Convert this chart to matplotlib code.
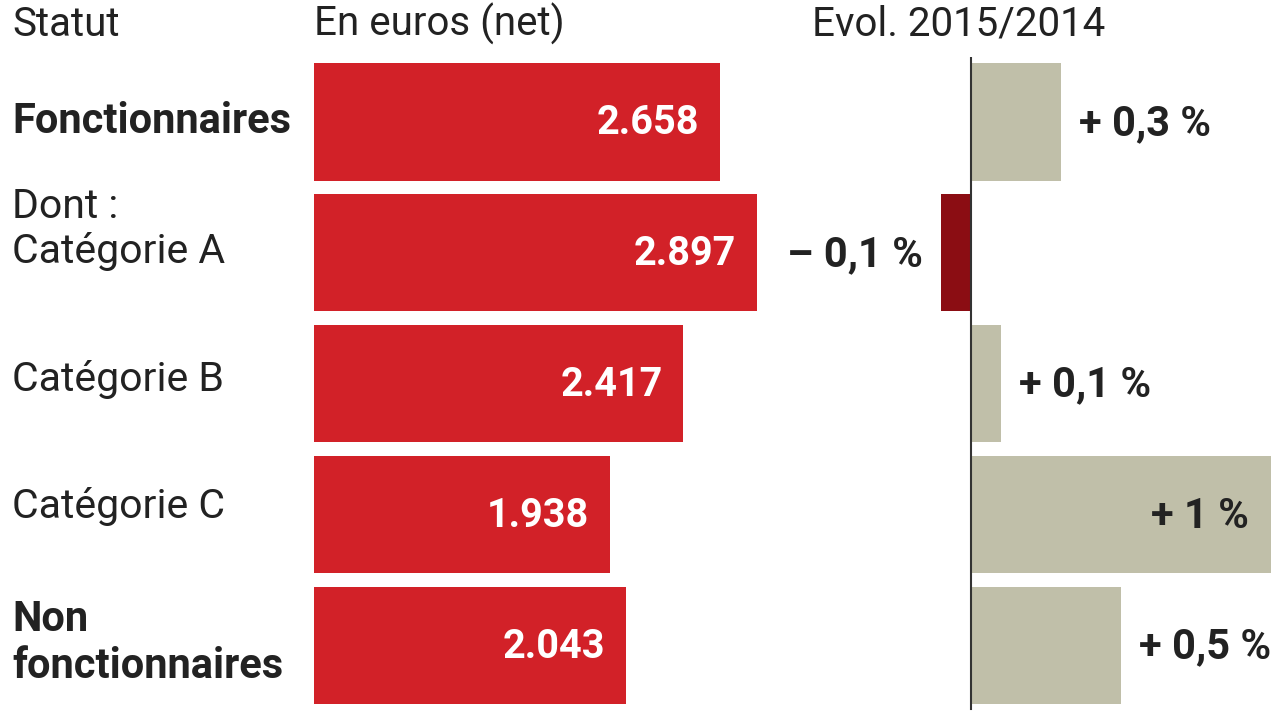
import numpy as np
import matplotlib.pyplot as plt

plt.rcParams['font.family'] = ['Roboto', 'DejaVu Sans']

categories = ["Fonctionnaires", "Dont :\nCatégorie A", "Catégorie B", "Catégorie C", "Non\nfonctionnaires"]
bold_rows = [True, False, False, False, True]
salaire = [2658, 2897, 2417, 1938, 2043]
salaire_labels = ["2.658", "2.897", "2.417", "1.938", "2.043"]
evol = [0.3, -0.1, 0.1, 1.0, 0.5]
evol_labels = ["+ 0,3 %", "– 0,1 %", "+ 0,1 %", "+ 1 %", "+ 0,5 %"]

RED = "#d22128"
DARKRED = "#8b0d13"
BEIGE = "#c0bfa9"
TXT = "#222222"

W, H = 1280, 720
fig = plt.figure(figsize=(W / 100, H / 100), dpi=100)

def px_axes(x0, x1, y0, y1):
    return fig.add_axes([x0 / W, 1 - y1 / H, (x1 - x0) / W, (y1 - y0) / H])

y = np.arange(len(categories))

# left: salaries
ax1 = px_axes(314, 314 + 3000 * 0.1528, 56.5, 711)
ax1.barh(y, salaire, height=0.895, color=RED)
ax1.set_xlim(0, 3000)
ax1.set_ylim(len(categories) - 0.5, -0.5)
ax1.axis('off')
for i, (v, lab) in enumerate(zip(salaire, salaire_labels)):
    ax1.annotate(lab, (v, i), xytext=(-15, -1), textcoords='offset points',
                 ha='right', va='center', color='white', fontsize=28.5, fontweight='bold')

# right: evolution
ax2 = px_axes(971 - 0.6 * 300, 971 + 1.03 * 300, 56.5, 711)
colors = [DARKRED if v < 0 else BEIGE for v in evol]
ax2.barh(y, evol, height=0.895, color=colors)
ax2.set_xlim(-0.6, 1.03)
ax2.set_ylim(len(categories) - 0.5, -0.5)
ax2.axis('off')
ax2.axvline(0, ymin=0.003, ymax=0.997, color="#333333", lw=1.5)
for i, (v, lab) in enumerate(zip(evol, evol_labels)):
    if v >= 0.9:
        off, ha = (-16, -1), 'right'
    elif v < 0:
        off, ha = (-13, -1), 'right'
    else:
        off, ha = (13, -1), 'left'
    ax2.annotate(lab, (v, i), xytext=off, textcoords='offset points',
                 ha=ha, va='center', color=TXT, fontsize=30, fontweight='bold')

# category labels
label_offsets = [0, 17, 3, 6, 2]
for i, (cat, b) in enumerate(zip(categories, bold_rows)):
    ax1.annotate(cat, (0, i), xytext=(-302 * 0.72, label_offsets[i]), textcoords='offset points',
                 ha='left', va='center', color=TXT, fontsize=30 if b else 29.5,
                 fontweight='bold' if b else 'normal', linespacing=1.19,
                 annotation_clip=False)

# headers
for x, t in [(12, "Statut"), (314, "En euros (net)"), (812, "Evol. 2015/2014")]:
    fig.text(x / W, 1 - 24 / H, t, ha='left', va='center', fontsize=29, color=TXT)

fig.savefig("out.png", dpi=100)
